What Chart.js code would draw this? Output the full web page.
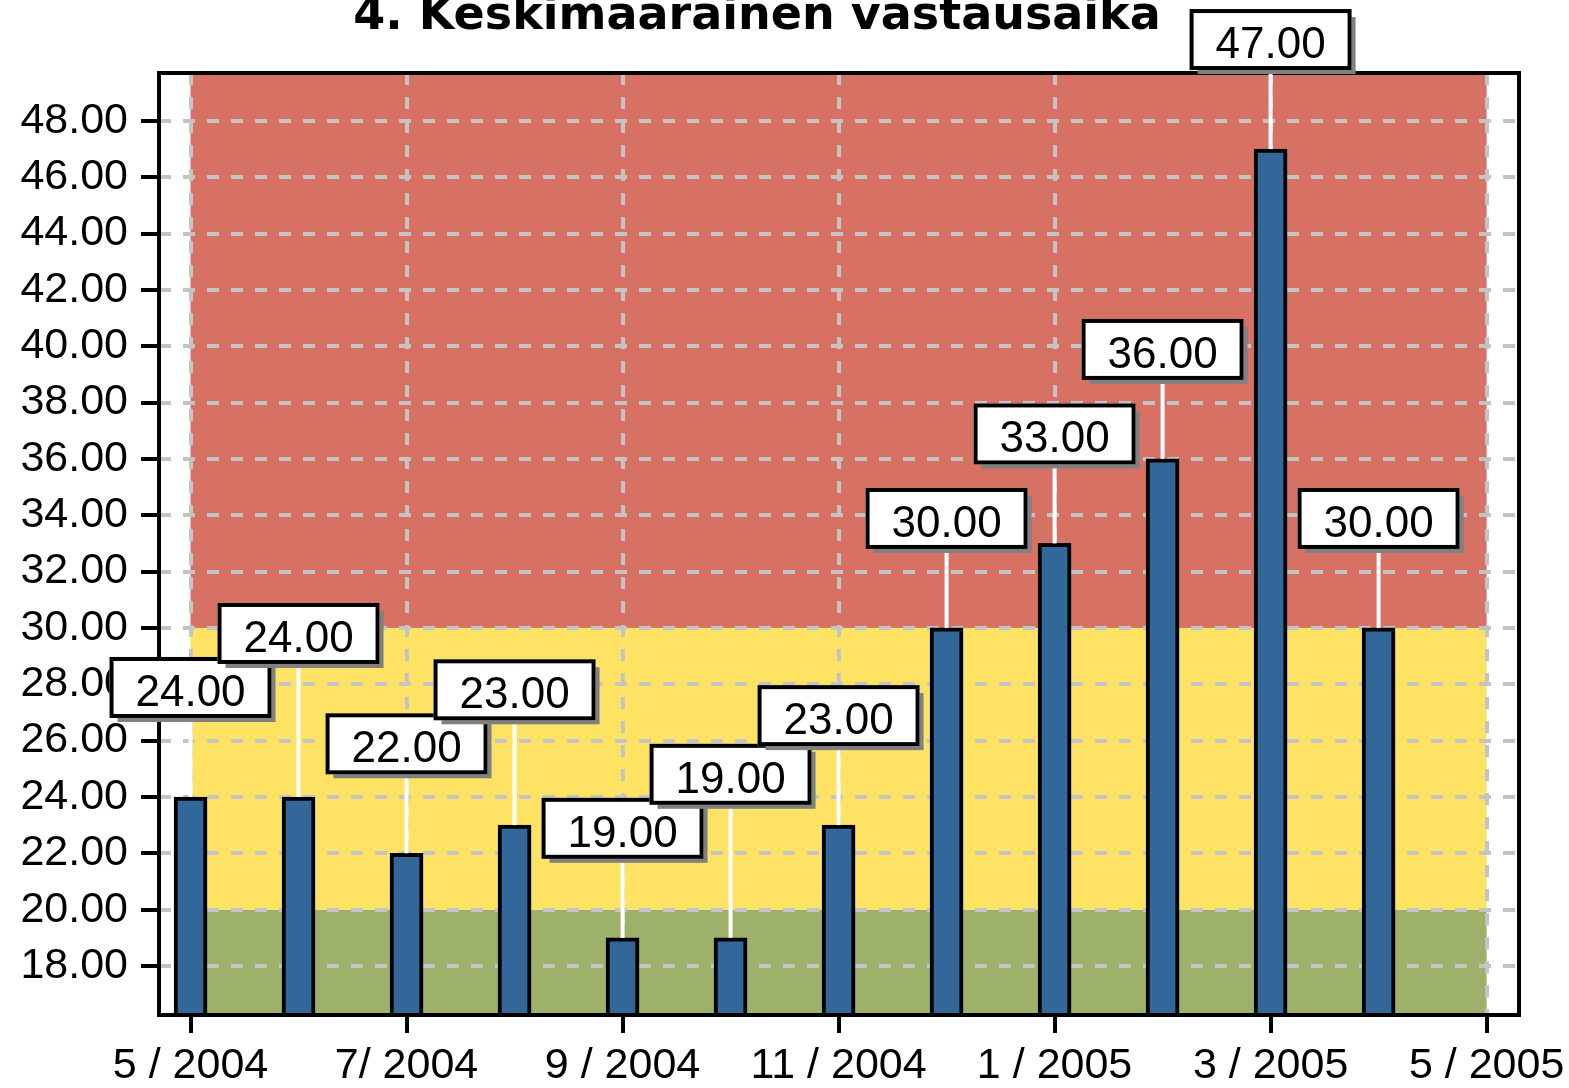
<!DOCTYPE html>
<html>
<head>
<meta charset="utf-8">
<script src="https://cdn.jsdelivr.net/npm/chart.js@4.4.1/dist/chart.umd.min.js"></script>
<style>
  html, body { margin: 0; padding: 0; background: #fff; overflow: hidden; }
  canvas { display: block; }
</style>
</head>
<body>
<canvas id="chart" width="1569" height="1088"></canvas>
<script>
// ── Data ─────────────────────────────────────────────────────
const chartTitle = '4. Keskimääräinen vastausaika';
const months = ['5/2004', '6/2004', '7/2004', '8/2004', '9/2004', '10/2004',
                '11/2004', '12/2004', '1/2005', '2/2005', '3/2005', '4/2005'];
const responseTimes = [24, 24, 22, 23, 19, 19, 23, 30, 33, 36, 47, 30];

// x ticks are month offsets from 5/2004
const xTickValues = [0, 2, 4, 6, 8, 10, 12];
const xTickLabels = ['5 / 2004', '7/ 2004', '9 / 2004', '11 / 2004', '1 / 2005', '3 / 2005', '5 / 2005'];
const yTickValues = [18, 20, 22, 24, 26, 28, 30, 32, 34, 36, 38, 40, 42, 44, 46, 48];

// target zones: green below 20, yellow 20–30, red above 30
const bandLimits = [20, 30];
const bandColors = ['#9eb16a', '#fee263', '#d77164'];

const FONT = "'Liberation Sans', Arial, sans-serif";

// ── Plugins ──────────────────────────────────────────────────
const bandsPlugin = {
    id: 'bands',
    beforeDraw(chart) {
        const { ctx, scales: { x, y } } = chart;
        ctx.save();
        ctx.fillStyle = '#fff';
        ctx.fillRect(0, 0, chart.width, chart.height);
        const x0 = x.getPixelForValue(xTickValues[0]);
        const x1 = x.getPixelForValue(xTickValues[xTickValues.length - 1]);
        const edges = [y.min, ...bandLimits, y.max];
        bandColors.forEach((c, i) => {
            const top = y.getPixelForValue(edges[i + 1]);
            const bottom = y.getPixelForValue(edges[i]);
            ctx.fillStyle = c;
            ctx.fillRect(x0, top, x1 - x0, bottom - top);
        });
        ctx.restore();
    },
};

const labelsPlugin = {
    id: 'valueLabels',
    afterDraw(chart) {
        const { ctx, chartArea: a } = chart;
        const meta = chart.getDatasetMeta(0);
        ctx.save();

        // frame round the plot
        ctx.strokeStyle = '#000';
        ctx.lineWidth = 4;
        ctx.strokeRect(a.left, a.top, a.right - a.left, a.bottom - a.top);

        // title (partly cut off at the top, like the original)
        ctx.fillStyle = '#000';
        ctx.font = "bold 46px 'DejaVu Sans'";
        ctx.textAlign = 'center';
        ctx.textBaseline = 'alphabetic';
        ctx.fillText(chartTitle, 757, 29);

        // place value boxes, pushing them up when they collide
        ctx.font = '44px ' + FONT;
        const h = 61;
        const boxes = [];
        meta.data.forEach((bar, i) => {
            const text = responseTimes[i].toFixed(2);
            const w = Math.round(ctx.measureText(text).width) + 52;
            const box = { text, bx: bar.x, by: bar.y, left: bar.x - w / 2, right: bar.x + w / 2, bottom: bar.y - 79 };
            box.top = box.bottom - h;
            let moved = true;
            while (moved) {
                moved = false;
                for (const p of boxes) {
                    if (box.left < p.right && box.right > p.left &&
                        box.bottom > p.top + 7 && box.top < p.bottom) {
                        box.bottom = p.top + 7;
                        box.top = box.bottom - h;
                        moved = true;
                    }
                }
            }
            boxes.push(box);
        });

        // leader lines
        ctx.strokeStyle = '#fff';
        ctx.lineWidth = 4;
        boxes.forEach(b => {
            ctx.beginPath();
            ctx.moveTo(b.bx, b.by);
            ctx.lineTo(b.bx, b.bottom);
            ctx.stroke();
        });

        // boxes with shadow
        boxes.forEach(b => {
            const w = b.right - b.left;
            ctx.fillStyle = '#808080';
            ctx.fillRect(b.left + 8, b.top + 8, w - 4, h - 4);
            ctx.fillStyle = '#fff';
            ctx.fillRect(b.left, b.top, w, h);
            ctx.strokeStyle = '#000';
            ctx.lineWidth = 4;
            ctx.strokeRect(b.left + 2, b.top + 2, w - 4, h - 4);
            ctx.fillStyle = '#000';
            ctx.textAlign = 'center';
            ctx.textBaseline = 'alphabetic';
            ctx.fillText(b.text, (b.left + b.right) / 2, b.bottom - 12);
        });
        ctx.restore();
    },
};

// ── Chart ────────────────────────────────────────────────────
const ctx = document.getElementById('chart').getContext('2d');

const tickFont = { family: FONT, size: 43 };

new Chart(ctx, {
    type: 'bar',
    data: {
        datasets: [{
            label: 'Keskimääräinen vastausaika',
            data: months.map((m, i) => ({ x: i, y: responseTimes[i] })),
            backgroundColor: '#336699',
            borderColor: '#000',
            borderWidth: 4,
            borderSkipped: false,
            barThickness: 33,
            clip: 0,
        }],
    },
    options: {
        responsive: false,
        animation: false,
        devicePixelRatio: 1,
        layout: { padding: { top: 73, right: 50, bottom: 0, left: 0 } },
        plugins: {
            legend: { display: false },
            title: { display: false },
            tooltip: { enabled: false },
        },
        scales: {
            x: {
                type: 'linear',
                offset: false,
                min: -0.292,
                max: 12.3,
                afterBuildTicks: s => { s.ticks = xTickValues.map(v => ({ value: v })); },
                afterFit: s => { s.height = 73; s.paddingLeft = 0; s.paddingRight = 0; },
                ticks: {
                    color: '#000',
                    font: tickFont,
                    padding: 7,
                    autoSkip: false,
                    maxRotation: 0,
                    callback: v => xTickLabels[xTickValues.indexOf(v)],
                },
                grid: {
                    offset: false,
                    color: '#c4c4c4',
                    lineWidth: 4,
                    tickLength: 18,
                    tickColor: '#000',
                    tickWidth: 4,
                },
                border: { display: false, dash: [12, 12] },
            },
            y: {
                min: 16.26,
                max: 49.7,
                afterBuildTicks: s => { s.ticks = yTickValues.map(v => ({ value: v })); },
                afterFit: s => { s.width = 159; },
                ticks: {
                    color: '#000',
                    font: tickFont,
                    padding: 13,
                    callback: v => v.toFixed(2),
                },
                grid: {
                    color: '#c4c4c4',
                    lineWidth: 4,
                    tickLength: 18,
                    tickColor: '#000',
                    tickWidth: 4,
                },
                border: { display: false, dash: [12, 12] },
            },
        },
    },
    plugins: [bandsPlugin, labelsPlugin],
});
</script>
</body>
</html>
